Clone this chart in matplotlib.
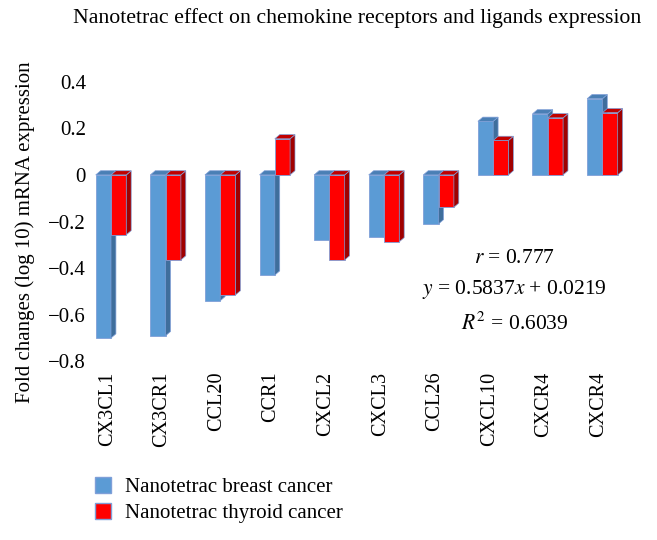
import matplotlib.pyplot as plt
from matplotlib.patches import Patch

genes = ["CX3CL1", "CX3CR1", "CCL20", "CCR1", "CXCL2", "CXCL3", "CCL26", "CXCL10", "CXCR4", "CXCR4"]
breast = [-0.70, -0.69, -0.54, -0.43, -0.28, -0.265, -0.21, 0.23, 0.262, 0.327]
thyroid = [-0.257, -0.365, -0.515, 0.155, -0.365, -0.287, -0.139, 0.148, 0.245, 0.267]
yticks = [0.4, 0.2, 0, -0.2, -0.4, -0.6, -0.8]

plt.rcParams['font.family'] = ['Liberation Serif', 'DejaVu Serif']
plt.rcParams['mathtext.fontset'] = 'stix'

W, H = 657, 540
fig = plt.figure(figsize=(W / 100, H / 100), dpi=100)
# zero at ~175 px, 233 px per unit
ax = fig.add_axes([60 / W, 1 - 366 / H, 580 / W, 295 / H])
ax.set_xlim(-0.934, 9.689)
ax.set_ylim(-0.82, 0.446)

bw = 0.28
dx, dy = 0.09, 0.018
edge = '#7F9FD8'


def bar3d(xc, v, front, side, top):
    x0, x1 = xc - bw / 2, xc + bw / 2
    ax.bar(xc, v, width=bw, color=front, edgecolor=edge, linewidth=0.6, zorder=2)
    # right side face
    ax.fill([x1, x1 + dx, x1 + dx, x1], [0, dy, v + dy, v],
            color=side, edgecolor=edge, linewidth=0.5, zorder=2)
    # top cap
    ytop = max(v, 0)
    ax.fill([x0, x1, x1 + dx, x0 + dx], [ytop, ytop, ytop + dy, ytop + dy],
            color=top, edgecolor=edge, linewidth=0.5, zorder=2)


for i in range(len(genes)):
    bar3d(i - 0.14, breast[i], '#5B9BD5', '#3F6E9C', '#4A7FB5')
    bar3d(i + 0.14, thyroid[i], '#FF0000', '#A00000', '#C00000')

for s in ax.spines.values():
    s.set_visible(False)
ax.spines['left'].set_position(('axes', 0.053))
ax.set_yticks(yticks)
ax.set_yticklabels([f"{t:g}".replace("-", "\u2212") for t in yticks], fontsize=15)
ax.set_xticks([i - 0.07 for i in range(len(genes))])
ax.set_xticklabels(genes, rotation=90, fontsize=14.6, va='top')
ax.tick_params(length=0, axis='both')
ax.tick_params(axis='x', pad=4)

fig.text(25 / W, 1 - 232 / H, "Fold changes (log 10) mRNA expression", rotation=90,
         ha='center', va='center', fontsize=15)
fig.text(357 / W, 1 - 18 / H, "Nanotetrac effect on chemokine receptors and ligands expression",
         ha='center', va='center', fontsize=15.7)

ax.text(0.784, 0.365, r"$r$ = 0.777", transform=ax.transAxes, ha='center', va='center', fontsize=15.5)
ax.text(0.784, 0.26, r"$y$ = 0.5837$x$ + 0.0219", transform=ax.transAxes, ha='center', va='center', fontsize=15.5)
ax.text(0.784, 0.145, r"$R^2$ = 0.6039", transform=ax.transAxes, ha='center', va='center', fontsize=15.5)

handles = [Patch(facecolor='#5B9BD5', edgecolor=edge),
           Patch(facecolor='#FF0000', edgecolor=edge)]
fig.legend(handles, ["Nanotetrac breast cancer", "Nanotetrac thyroid cancer"],
           loc='center left', bbox_to_anchor=(76 / W, 1 - 500 / H), frameon=False,
           fontsize=15, handlelength=0.8, handleheight=0.8, labelspacing=0.3, handletextpad=0.65)

fig.savefig("out.png", dpi=100)
